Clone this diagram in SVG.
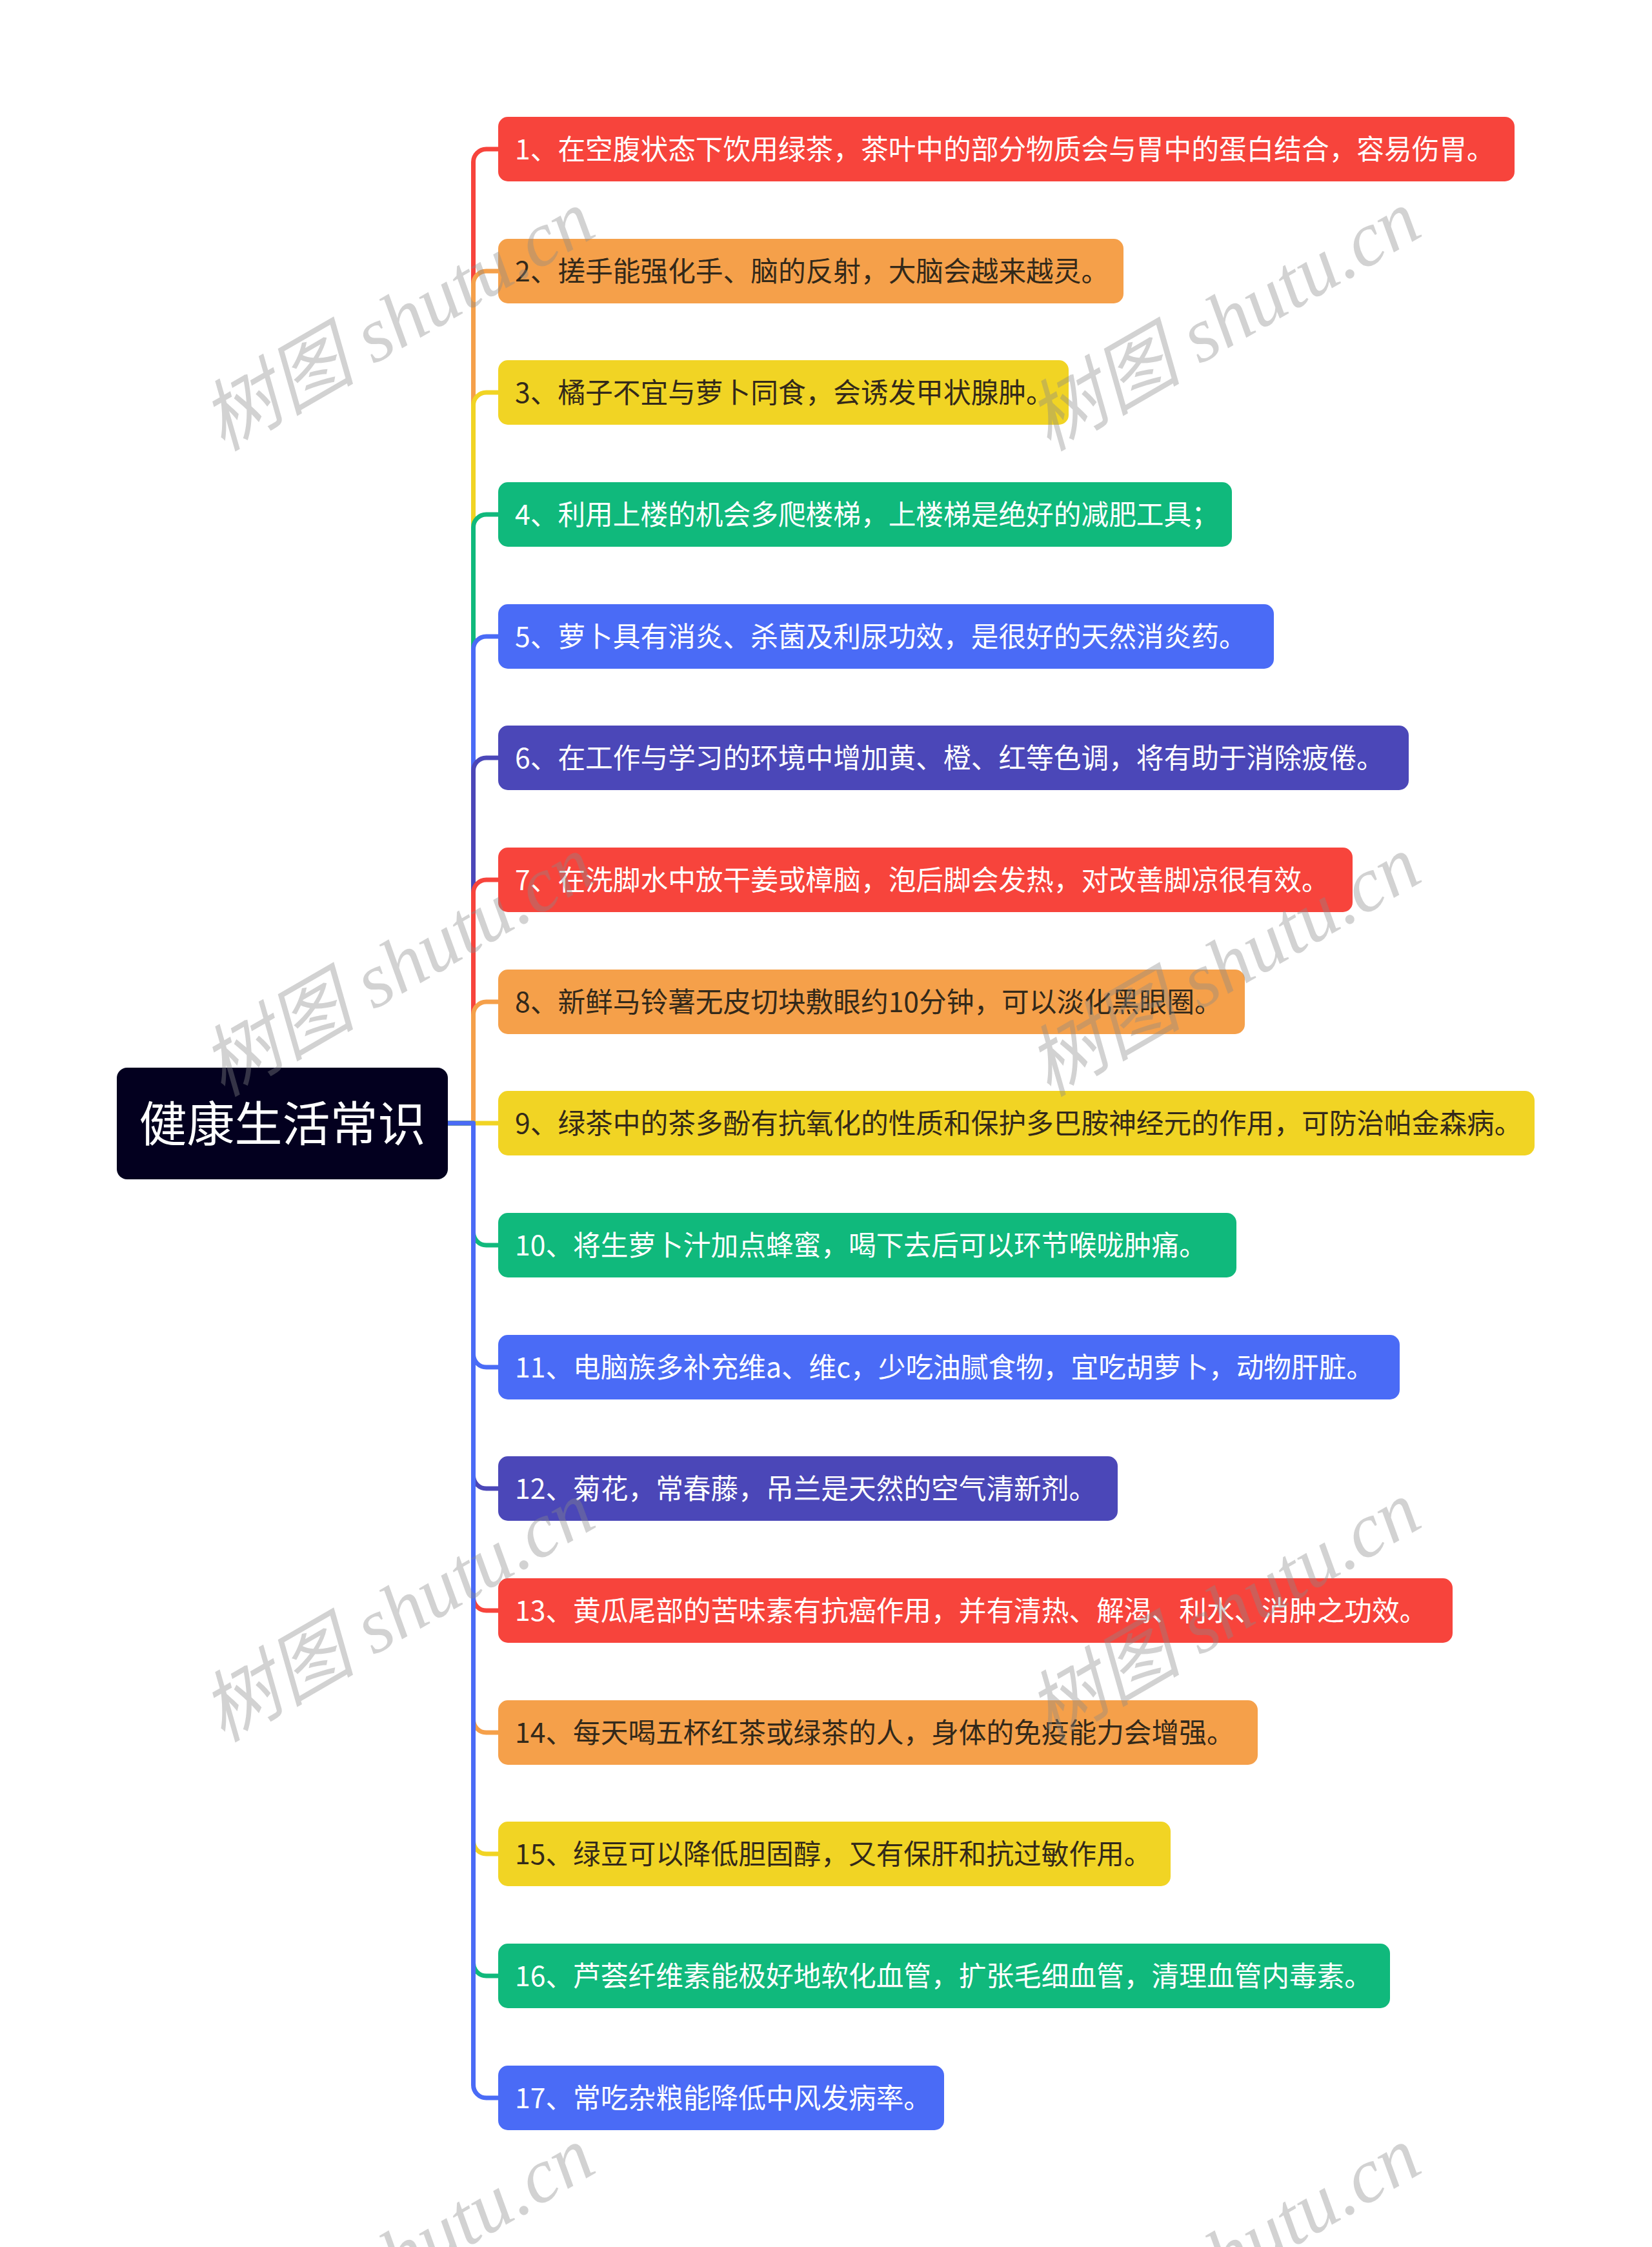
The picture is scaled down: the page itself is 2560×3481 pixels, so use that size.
<svg xmlns="http://www.w3.org/2000/svg" width="2560" height="3481" viewBox="0 0 2560 3481">
<style>
.t{font-family:"Noto Sans CJK SC","Noto Sans",sans-serif;font-size:42.7px}
.root{font-family:"Noto Sans CJK SC","Noto Sans",sans-serif;font-size:74px;fill:#ffffff}
.w{fill:#ffffff}
.d{fill:#33291a}
.c{fill:none;stroke-width:7;stroke-linejoin:round}
.red{fill:#F7443C}.orange{fill:#F5A04A}.yellow{fill:#F1D424}.green{fill:#10B97C}.blue{fill:#4A6BF6}.indigo{fill:#4B47B8}
.sred{stroke:#F7443C}.sorange{stroke:#F5A04A}.syellow{stroke:#F1D424}.sgreen{stroke:#10B97C}.sblue{stroke:#4A6BF6}.sindigo{stroke:#4B47B8}
.wm{font-family:"Liberation Serif","Noto Sans CJK SC",serif;font-style:italic;font-size:120px;fill:#8a8a8a;fill-opacity:0.38}
</style>
<rect width="2560" height="3481" fill="#ffffff"/>
<g id="connectors">
<path class="c sred" d="M694,1740 H733.5 V251 A20,20 0 0 1 753.5,231 H772"/>
<path class="c sorange" d="M694,1740 H733.5 V440 A20,20 0 0 1 753.5,420 H772"/>
<path class="c syellow" d="M694,1740 H733.5 V628 A20,20 0 0 1 753.5,608 H772"/>
<path class="c sgreen" d="M694,1740 H733.5 V817 A20,20 0 0 1 753.5,797 H772"/>
<path class="c sblue" d="M694,1740 H733.5 V1006 A20,20 0 0 1 753.5,986 H772"/>
<path class="c sindigo" d="M694,1740 H733.5 V1194 A20,20 0 0 1 753.5,1174 H772"/>
<path class="c sred" d="M694,1740 H733.5 V1383 A20,20 0 0 1 753.5,1363 H772"/>
<path class="c sorange" d="M694,1740 H733.5 V1572 A20,20 0 0 1 753.5,1552 H772"/>
<path class="c syellow" d="M694,1740 H772"/>
<path class="c sgreen" d="M694,1740 H733.5 V1909 A20,20 0 0 0 753.5,1929 H772"/>
<path class="c sblue" d="M694,1740 H733.5 V2098 A20,20 0 0 0 753.5,2118 H772"/>
<path class="c sindigo" d="M694,1740 H733.5 V2286 A20,20 0 0 0 753.5,2306 H772"/>
<path class="c sred" d="M694,1740 H733.5 V2475 A20,20 0 0 0 753.5,2495 H772"/>
<path class="c sorange" d="M694,1740 H733.5 V2664 A20,20 0 0 0 753.5,2684 H772"/>
<path class="c syellow" d="M694,1740 H733.5 V2852 A20,20 0 0 0 753.5,2872 H772"/>
<path class="c sgreen" d="M694,1740 H733.5 V3041 A20,20 0 0 0 753.5,3061 H772"/>
<path class="c sblue" d="M694,1740 H733.5 V3230 A20,20 0 0 0 753.5,3250 H772"/>
</g>
<g id="node-root">
<rect x="181" y="1654" width="513" height="173" rx="16" fill="#03001F"/>
<text class="root" x="437.5" y="1768" text-anchor="middle">健康生活常识</text>
</g>
<g id="node-1"><rect class="red" x="772" y="181" width="1575" height="100" rx="15"/><text class="t w" x="798" y="247">1、在空腹状态下饮用绿茶，茶叶中的部分物质会与胃中的蛋白结合，容易伤胃。</text></g>
<g id="node-2"><rect class="orange" x="772" y="370" width="969" height="100" rx="15"/><text class="t d" x="798" y="436">2、搓手能强化手、脑的反射，大脑会越来越灵。</text></g>
<g id="node-3"><rect class="yellow" x="772" y="558" width="884" height="100" rx="15"/><text class="t d" x="798" y="624">3、橘子不宜与萝卜同食，会诱发甲状腺肿。</text></g>
<g id="node-4"><rect class="green" x="772" y="747" width="1137" height="100" rx="15"/><text class="t w" x="798" y="813">4、利用上楼的机会多爬楼梯，上楼梯是绝好的减肥工具；</text></g>
<g id="node-5"><rect class="blue" x="772" y="936" width="1202" height="100" rx="15"/><text class="t w" x="798" y="1002">5、萝卜具有消炎、杀菌及利尿功效，是很好的天然消炎药。</text></g>
<g id="node-6"><rect class="indigo" x="772" y="1124" width="1411" height="100" rx="15"/><text class="t w" x="798" y="1190">6、在工作与学习的环境中增加黄、橙、红等色调，将有助于消除疲倦。</text></g>
<g id="node-7"><rect class="red" x="772" y="1313" width="1324" height="100" rx="15"/><text class="t w" x="798" y="1379">7、在洗脚水中放干姜或樟脑，泡后脚会发热，对改善脚凉很有效。</text></g>
<g id="node-8"><rect class="orange" x="772" y="1502" width="1157" height="100" rx="15"/><text class="t d" x="798" y="1568">8、新鲜马铃薯无皮切块敷眼约10分钟，可以淡化黑眼圈。</text></g>
<g id="node-9"><rect class="yellow" x="772" y="1690" width="1606" height="100" rx="15"/><text class="t d" x="798" y="1756">9、绿茶中的茶多酚有抗氧化的性质和保护多巴胺神经元的作用，可防治帕金森病。</text></g>
<g id="node-10"><rect class="green" x="772" y="1879" width="1144" height="100" rx="15"/><text class="t w" x="798" y="1945">10、将生萝卜汁加点蜂蜜，喝下去后可以环节喉咙肿痛。</text></g>
<g id="node-11"><rect class="blue" x="772" y="2068" width="1397" height="100" rx="15"/><text class="t w" x="798" y="2134">11、电脑族多补充维a、维c，少吃油腻食物，宜吃胡萝卜，动物肝脏。</text></g>
<g id="node-12"><rect class="indigo" x="772" y="2256" width="960" height="100" rx="15"/><text class="t w" x="798" y="2322">12、菊花，常春藤，吊兰是天然的空气清新剂。</text></g>
<g id="node-13"><rect class="red" x="772" y="2445" width="1479" height="100" rx="15"/><text class="t w" x="798" y="2511">13、黄瓜尾部的苦味素有抗癌作用，并有清热、解渴、利水、消肿之功效。</text></g>
<g id="node-14"><rect class="orange" x="772" y="2634" width="1177" height="100" rx="15"/><text class="t d" x="798" y="2700">14、每天喝五杯红茶或绿茶的人，身体的免疫能力会增强。</text></g>
<g id="node-15"><rect class="yellow" x="772" y="2822" width="1042" height="100" rx="15"/><text class="t d" x="798" y="2888">15、绿豆可以降低胆固醇，又有保肝和抗过敏作用。</text></g>
<g id="node-16"><rect class="green" x="772" y="3011" width="1382" height="100" rx="15"/><text class="t w" x="798" y="3077">16、芦荟纤维素能极好地软化血管，扩张毛细血管，清理血管内毒素。</text></g>
<g id="node-17"><rect class="blue" x="772" y="3200" width="691" height="100" rx="15"/><text class="t w" x="798" y="3266">17、常吃杂粮能降低中风发病率。</text></g>
<g id="watermark">
<text class="wm" transform="translate(345,700) rotate(-30)">树图 shutu.cn</text>
<text class="wm" transform="translate(1625,700) rotate(-30)">树图 shutu.cn</text>
<text class="wm" transform="translate(345,1700) rotate(-30)">树图 shutu.cn</text>
<text class="wm" transform="translate(1625,1700) rotate(-30)">树图 shutu.cn</text>
<text class="wm" transform="translate(345,2700) rotate(-30)">树图 shutu.cn</text>
<text class="wm" transform="translate(1625,2700) rotate(-30)">树图 shutu.cn</text>
<text class="wm" transform="translate(345,3700) rotate(-30)">树图 shutu.cn</text>
<text class="wm" transform="translate(1625,3700) rotate(-30)">树图 shutu.cn</text>
</g>
</svg>
